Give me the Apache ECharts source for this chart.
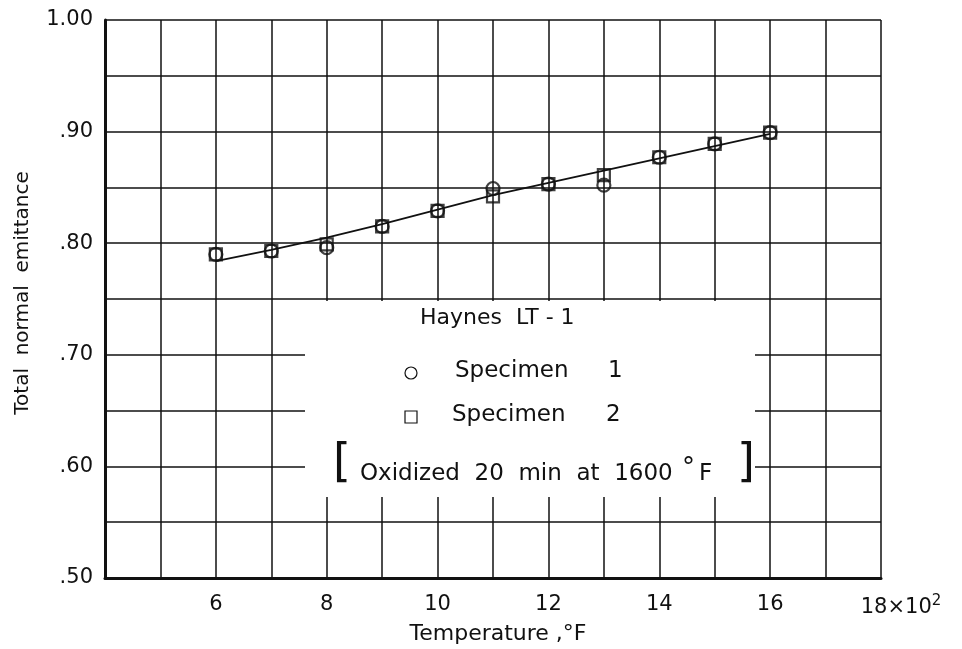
<!DOCTYPE html>
<html>
<head>
<meta charset="utf-8">
<script src="https://cdn.jsdelivr.net/npm/echarts@6/dist/echarts.min.js"></script>
<style>
  html, body { margin: 0; padding: 0; background: #fff; }
  #chart { width: 962px; height: 649px; }
</style>
</head>
<body>
<div id="chart"></div>
<script>
// temperature, hundreds of deg F
const temps = [6, 7, 8, 9, 10, 11, 12, 13, 14, 15, 16];
// total normal emittance
const specimen1 = [0.790, 0.793, 0.796, 0.815, 0.829, 0.849, 0.853, 0.852, 0.877, 0.889, 0.899];
const specimen2 = [0.790, 0.793, 0.799, 0.815, 0.829, 0.842, 0.853, 0.861, 0.877, 0.889, 0.899];
// faired curve through the points
const fairedCurve = [0.784, 0.794, 0.805, 0.817, 0.830, 0.843, 0.854, 0.865, 0.876, 0.887, 0.898];

// tick labels
const xLabelValues = [6, 8, 10, 12, 14, 16];
const xLastLabel = 18;
const yLabelValues = [50, 60, 70, 80, 90, 100];   // hundredths
const yLabelTexts = ['.50', '.60', '.70', '.80', '.90', '1.00'];

const FONT = 'DejaVu Sans';
const INK = '#111';

const chart = echarts.init(document.getElementById('chart'));

const option = {
  backgroundColor: '#fff',
  animation: false,
  grid: { left: 105, top: 20, right: 81, bottom: 71, outerBoundsMode: 'none', containLabel: false },
  xAxis: {
    type: 'value',
    min: 4,
    max: 18,
    interval: 1,
    name: 'Temperature ,°F',
    nameLocation: 'middle',
    nameGap: 45,
    nameTextStyle: { fontFamily: FONT, fontSize: 22, color: INK, padding: [0, 0, 0, 10] },
    axisLine: { show: true, lineStyle: { color: INK, width: 3 } },
    axisTick: { show: false },
    splitLine: { show: true, lineStyle: { color: INK, width: 1.5 } },
    axisLabel: {
      interval: 0,
      hideOverlap: false,
      showMinLabel: true,
      showMaxLabel: true,
      margin: 16,
      fontFamily: FONT,
      fontSize: 21,
      color: INK,
      formatter: function (v) {
        const n = Math.round(v);
        if (n === xLastLabel) return '{a|' + n + '×10}{b|2}';
        return xLabelValues.indexOf(n) >= 0 ? String(n) : '';
      },
      rich: {
        a: { fontFamily: FONT, fontSize: 21, color: INK, padding: [0, 0, 0, 40] },
        b: { fontFamily: FONT, fontSize: 15, color: INK, verticalAlign: 'bottom', padding: [0, 0, 12, 0] }
      }
    }
  },
  yAxis: {
    type: 'value',
    min: 0.5,
    max: 1.0,
    interval: 0.05,
    name: 'Total  normal  emittance',
    nameLocation: 'middle',
    nameGap: 72,
    nameTextStyle: { fontFamily: FONT, fontSize: 20, color: INK, padding: [0, 0, 0, 12] },
    axisLine: { show: true, lineStyle: { color: INK, width: 3 } },
    axisTick: { show: false },
    splitLine: { show: true, lineStyle: { color: INK, width: 1.5 } },
    axisLabel: {
      margin: 12,
      fontFamily: FONT,
      fontSize: 21,
      color: INK,
      formatter: function (v) {
        const i = yLabelValues.indexOf(Math.round(v * 100));
        return i >= 0 ? yLabelTexts[i] : '';
      }
    }
  },
  series: [
    {
      name: 'Faired',
      type: 'line',
      data: temps.map((t, i) => [t, fairedCurve[i]]),
      showSymbol: false,
      lineStyle: { color: INK, width: 1.8 },
      z: 3
    },
    {
      name: 'Specimen 1',
      type: 'scatter',
      data: temps.map((t, i) => [t, specimen1[i]]),
      symbol: 'circle',
      symbolSize: 13,
      itemStyle: { color: 'rgba(255,255,255,0)', borderColor: INK, borderWidth: 2.2 },
      z: 4
    },
    {
      name: 'Specimen 2',
      type: 'scatter',
      data: temps.map((t, i) => [t, specimen2[i]]),
      symbol: 'rect',
      symbolSize: 12,
      itemStyle: { color: 'rgba(255,255,255,0)', borderColor: INK, borderWidth: 2.2 },
      z: 4
    }
  ],
  // key box drawn over the grid, like the original figure
  graphic: [
    { type: 'rect', z: 100, shape: { x: 305, y: 301, width: 450, height: 196 }, style: { fill: '#fff' } },
    { type: 'text', z: 101, left: 420, top: 307, style: { text: 'Haynes  LT - 1', fontFamily: FONT, fontSize: 22, fill: INK } },
    { type: 'circle', z: 101, shape: { cx: 411, cy: 373, r: 6 }, style: { fill: '#fff', stroke: INK, lineWidth: 1.2 } },
    { type: 'text', z: 101, left: 455, top: 360, style: { text: 'Specimen', fontFamily: FONT, fontSize: 23, fill: INK } },
    { type: 'text', z: 101, left: 608, top: 360, style: { text: '1', fontFamily: FONT, fontSize: 23, fill: INK } },
    { type: 'rect', z: 101, shape: { x: 405, y: 411, width: 12, height: 12 }, style: { fill: '#fff', stroke: INK, lineWidth: 1.2 } },
    { type: 'text', z: 101, left: 452, top: 404, style: { text: 'Specimen', fontFamily: FONT, fontSize: 23, fill: INK } },
    { type: 'text', z: 101, left: 606, top: 404, style: { text: '2', fontFamily: FONT, fontSize: 23, fill: INK } },
    { type: 'text', z: 101, left: 333, top: 441, style: { text: '[', fontFamily: FONT, fontSize: 46, fill: INK } },
    {
      type: 'text', z: 101, left: 360, top: 456,
      style: {
        text: '{t|Oxidized  20  min  at  1600 }{s|°}{t|F}',
        rich: {
          t: { fontFamily: FONT, fontSize: 23, fill: INK },
          s: { fontFamily: FONT, fontSize: 26, fill: INK, verticalAlign: 'top', padding: [0, 4, 10, 2] }
        }
      }
    },
    { type: 'text', z: 101, left: 737, top: 441, style: { text: ']', fontFamily: FONT, fontSize: 46, fill: INK } }
  ]
};

chart.setOption(option);
</script>
</body>
</html>
